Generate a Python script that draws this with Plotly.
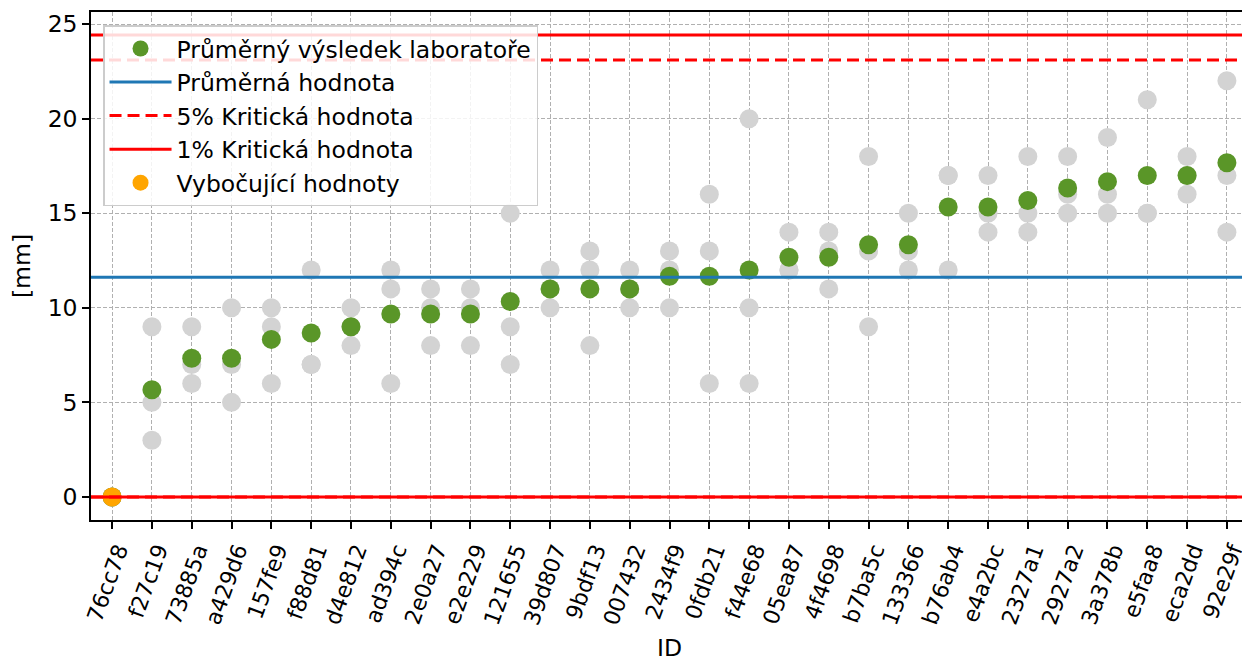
import plotly.graph_objects as go

# ---- data ----
lab_ids = ["76cc78", "f27c19", "73885a", "a429d6", "157fe9", "f88d81", "d4e812",
           "ad394c", "2e0a27", "e2e229", "121655", "39d807", "9bdf13", "007432",
           "2434f9", "0fdb21", "f44e68", "05ea87", "4f4698", "b7ba5c", "133366",
           "b76ab4", "e4a2bc", "2327a1", "2927a2", "3a378b", "e5faa8", "eca2dd",
           "92e29f"]
result_1 = [0, 9, 9, 10, 10, 12, 10, 12, 11, 11, 15, 12, 13, 12, 13, 16, 20, 14, 14, 18, 15,
            17, 17, 18, 18, 19, 21, 18, 22]
result_2 = [0, 5, 7, 7, 9, 7, 9, 11, 10, 10, 9, 11, 12, 11, 12, 13, 10, 12, 13, 13, 13,
            17, 15, 15, 16, 16, 15, 17, 17]
result_3 = [0, 3, 6, 5, 6, 7, 8, 6, 8, 8, 7, 10, 8, 10, 10, 6, 6, 12, 11, 9, 12,
            12, 14, 14, 15, 15, 15, 16, 14]
lab_means = [0.0, 5.67, 7.33, 7.33, 8.33, 8.67, 9.0, 9.67, 9.67, 9.67, 10.33, 11.0, 11.0, 11.0,
             11.67, 11.67, 12.0, 12.67, 12.67, 13.33, 13.33, 15.33, 15.33, 15.67, 16.33,
             16.67, 17.0, 17.0, 17.67]
outlier_ids = ["76cc78"]
outlier_values = [0.0]
mean_value = 11.62
crit5_upper = 23.1
crit5_lower = 0.0
crit1_upper = 24.42
crit1_lower = 0.0

FONT = "DejaVu Sans"
FS = 23.5
FS_X = 22
fig = go.Figure()

gx, gy = [], []
for i, lab in enumerate(lab_ids):
    for r in (result_1[i], result_2[i], result_3[i]):
        gx.append(lab)
        gy.append(r)

fig.add_trace(go.Scatter(x=gx, y=gy, mode="markers", showlegend=False,
                         marker=dict(color="#d3d3d3", size=19, line=dict(width=0)),
                         hoverinfo="skip"))
fig.add_trace(go.Scatter(x=lab_ids, y=lab_means, mode="markers",
                         name="Průměrný výsledek laboratoře", legendrank=1,
                         marker=dict(color="#5a9628", size=19, line=dict(width=0))))

# horizontal reference lines (full width)
DASH = "12px,6px"
fig.add_shape(type="line", xref="paper", x0=0, x1=1, y0=mean_value, y1=mean_value,
              line=dict(color="#1f77b4", width=3), showlegend=True,
              name="Průměrná hodnota", legendrank=2)
fig.add_shape(type="line", xref="paper", x0=0, x1=1, y0=crit5_upper, y1=crit5_upper,
              line=dict(color="#ff0000", width=3, dash=DASH), showlegend=True,
              name="5% Kritická hodnota", legendrank=3, legendgroup="c5")
fig.add_shape(type="line", xref="paper", x0=0, x1=1, y0=crit5_lower, y1=crit5_lower,
              line=dict(color="#ff0000", width=3, dash=DASH), showlegend=False,
              legendgroup="c5")
fig.add_shape(type="line", xref="paper", x0=0, x1=1, y0=crit1_upper, y1=crit1_upper,
              line=dict(color="#ff0000", width=3), showlegend=True,
              name="1% Kritická hodnota", legendrank=4, legendgroup="c1")
fig.add_shape(type="line", xref="paper", x0=0, x1=1, y0=crit1_lower, y1=crit1_lower,
              line=dict(color="#ff0000", width=3), showlegend=False, legendgroup="c1")

fig.add_trace(go.Scatter(x=outlier_ids, y=outlier_values, mode="markers",
                         name="Vybočující hodnoty", legendrank=5,
                         marker=dict(color="#ffa500", size=19, line=dict(width=0))))

axis_common = dict(showline=True, linecolor="black", linewidth=1.5, mirror=True,
                   ticks="outside", ticklen=7, tickwidth=1.5, tickcolor="black",
                   showgrid=True, gridcolor="#b0b0b0", gridwidth=0.8, griddash="4px,2px",
                   zeroline=False, automargin=False)

fig.update_xaxes(**axis_common, type="category", categoryorder="array",
                 categoryarray=lab_ids, range=[-0.53, 28.53], tickangle=-70,
                 ticklabelshift=6, ticklabelstandoff=0,
                 tickfont=dict(family=FONT, size=FS_X, color="black"),
                 title=dict(text="ID", font=dict(family=FONT, size=FS, color="black"),
                            standoff=16))
fig.update_yaxes(**axis_common, range=[-1.22, 25.64], tickvals=[0, 5, 10, 15, 20, 25],
                 tickfont=dict(family=FONT, size=FS, color="black"),
                 title=dict(text="[mm]", font=dict(family=FONT, size=FS, color="black"),
                            standoff=14))

# page body has an 8px margin: figure sized/offset so the plot lands where the reference has it
fig.update_layout(
    width=1242, height=654,
    margin=dict(l=83, r=2, t=4, b=142),
    plot_bgcolor="white", paper_bgcolor="white",
    font=dict(family=FONT, size=FS, color="black"),
    legend=dict(x=0.0104, y=0.974, xanchor="left", yanchor="top",
                bgcolor="rgba(255,255,255,0.85)", bordercolor="#cccccc", borderwidth=1.5,
                font=dict(family=FONT, size=FS, color="black"),
                itemwidth=62, tracegroupgap=0),
    showlegend=True,
)

fig.write_html("out.html")
